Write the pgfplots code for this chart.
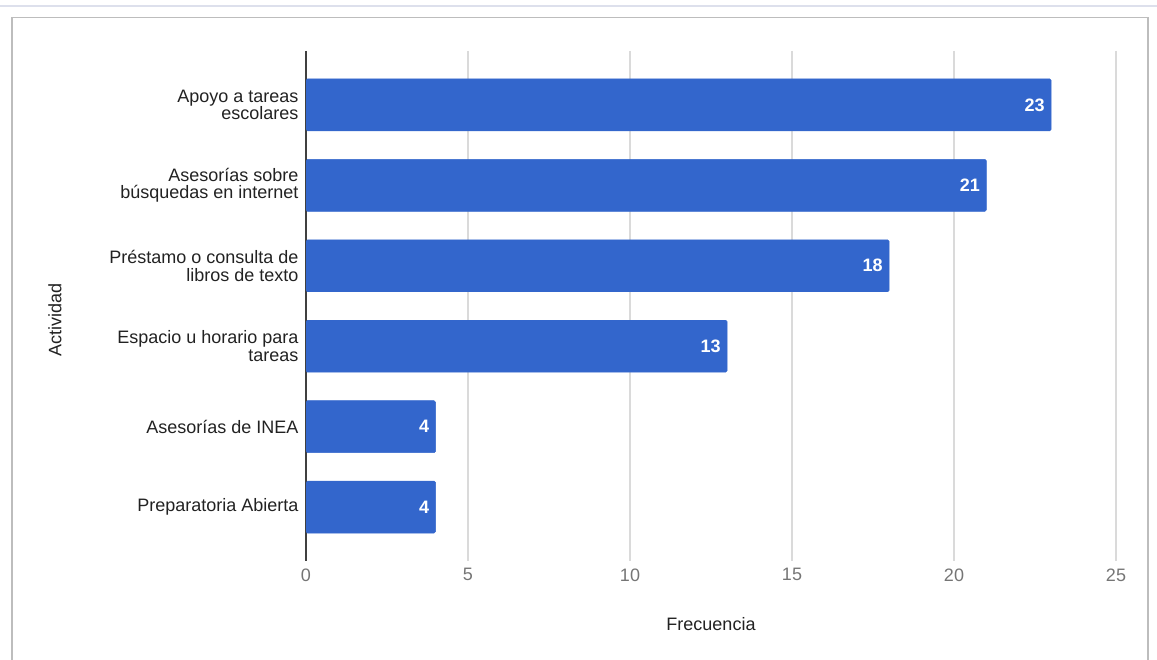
\documentclass[border=0pt]{standalone}
\usepackage{pgfplots}
\pgfplotsset{compat=1.18}
\usepackage{fontspec}
\setmainfont{Liberation Sans}
\definecolor{barblue}{HTML}{3366CC}
\definecolor{gridgray}{HTML}{DADADA}
\definecolor{ticklab}{HTML}{757575}
\definecolor{labdark}{HTML}{222222}
\definecolor{framegray}{HTML}{BDBDBD}
\definecolor{topline}{HTML}{DDE0EC}
\begin{document}
\begin{tikzpicture}
\useasboundingbox (0,0) rectangle (1157bp,660bp);
\draw[topline, line width=2bp] (0,654bp) -- (1157bp,654bp);
\draw[framegray, line width=1.3bp] (12bp,-5bp) -- (12bp,642.5bp) -- (1148bp,642.5bp) -- (1148bp,-5bp);
\begin{axis}[
  at={(306bp,99bp)}, anchor=south west,
  scale only axis, width=810bp, height=510bp,
  /pgf/number format/assume math mode=true,
  xbar, bar width=52bp,
  xmin=0, xmax=25,
  ymin=-0.67, ymax=5.67, y dir=reverse,
  axis line style={draw=none},
  xtick={5,10,15,20,25},
  extra x ticks={0}, extra x tick labels={0},
  extra x tick style={grid style={draw=black!75, line width=1.5bp}},
  major tick length=0pt,
  xmajorgrids, grid style={draw=gridgray, line width=1.3bp},
  ytick={0,1,2,3,4,5},
  yticklabels={{Apoyo a tareas\\escolares},{Asesorías sobre\\búsquedas en internet},{Préstamo o consulta de\\libros de texto},{Espacio u horario para\\tareas},{Asesorías de INEA},{Preparatoria Abierta}},
  yticklabel style={align=right, font=\fontsize{18bp}{17.7bp}\selectfont, text=labdark, xshift=-4bp},
  xticklabel style={font=\fontsize{18bp}{18bp}\selectfont, text=ticklab, yshift=-4bp},
  xlabel={Frecuencia}, ylabel={Actividad},
  xlabel style={at={(rel axis cs:0.5,-0.1235)}, anchor=center, font=\fontsize{18bp}{18bp}\selectfont, text=labdark},
  ylabel style={at={(rel axis cs:-0.31,0.4725)}, anchor=center, rotate=0, font=\fontsize{18bp}{18bp}\selectfont, text=labdark},
  nodes near coords,
  every node near coord/.append style={anchor=east, xshift=-3bp, text=white, font=\fontsize{18bp}{18bp}\selectfont\bfseries},
]
\addplot[fill=barblue, draw=barblue, rounded corners=1.5bp] coordinates {(23,0) (21,1) (18,2) (13,3) (4,4) (4,5)};
\end{axis}
\end{tikzpicture}
\end{document}
